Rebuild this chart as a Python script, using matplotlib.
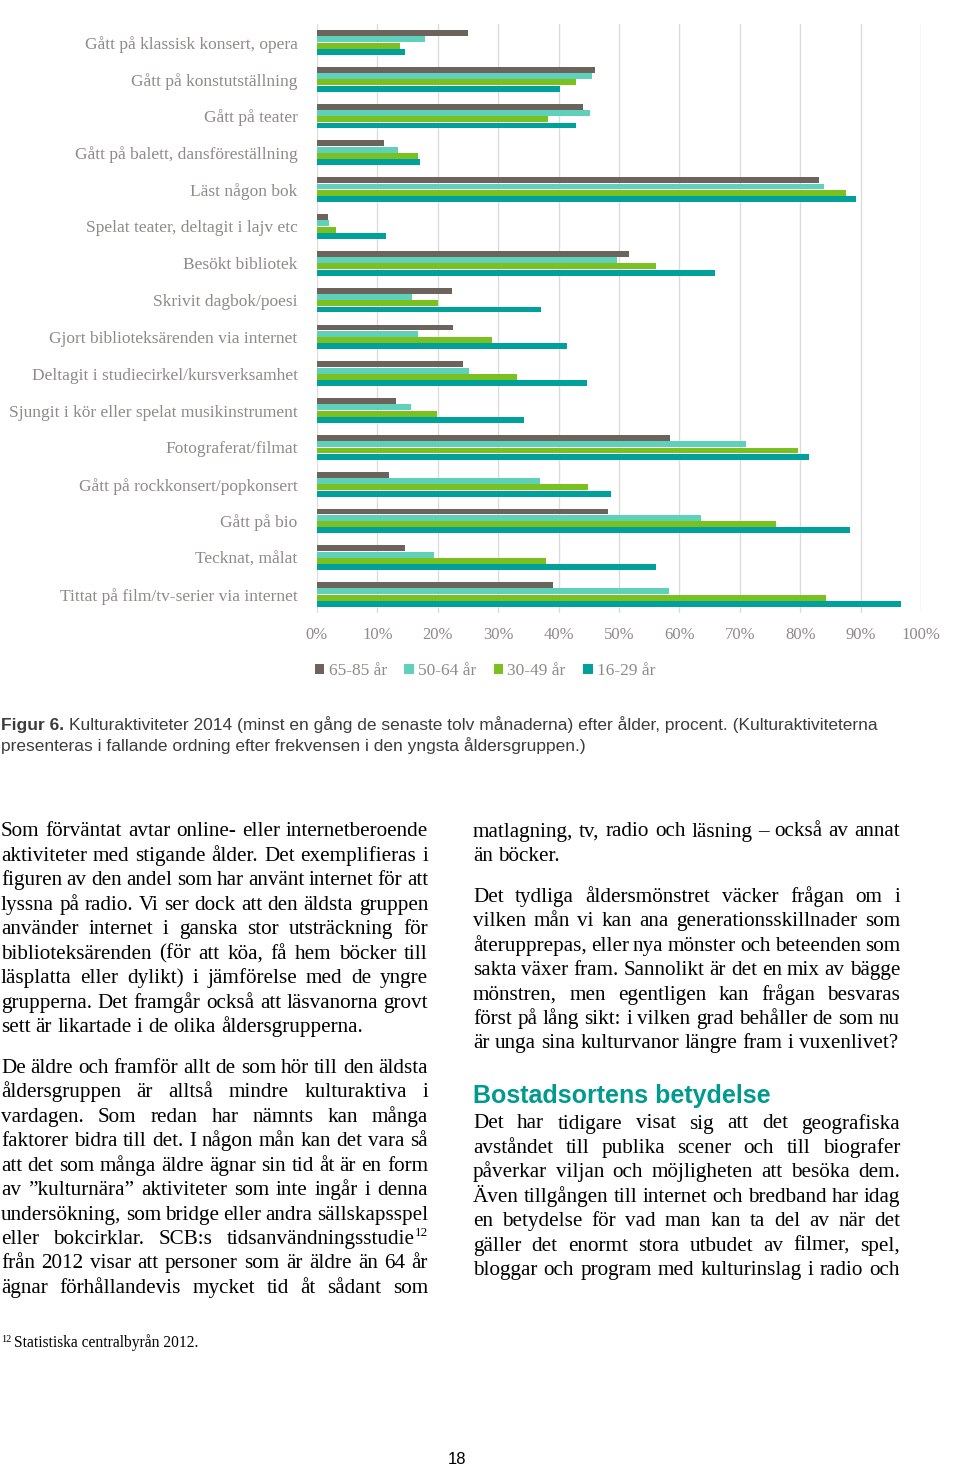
"""Kulturaktiviteter 2014 efter ålder - page recreation."""

import matplotlib

matplotlib.use("Agg")
import matplotlib.pyplot as plt
import numpy as np
from matplotlib.patches import Patch

W, H = 960, 1465

categories = [
    "Gått på klassisk konsert, opera",
    "Gått på konstutställning",
    "Gått på teater",
    "Gått på balett, dansföreställning",
    "Läst någon bok",
    "Spelat teater, deltagit i lajv etc",
    "Besökt bibliotek",
    "Skrivit dagbok/poesi",
    "Gjort biblioteksärenden via internet",
    "Deltagit i studiecirkel/kursverksamhet",
    "Sjungit i kör eller spelat musikinstrument",
    "Fotograferat/filmat",
    "Gått på rockkonsert/popkonsert",
    "Gått på bio",
    "Tecknat, målat",
    "Tittat på film/tv-serier via internet",
]
age_65_85 = [25.0, 46.0, 44.1, 11.1, 83.1, 1.8, 51.7, 22.4, 22.5, 24.1, 13.0, 58.4, 11.9, 48.1, 14.5, 39.0]
age_50_64 = [17.8, 45.6, 45.2, 13.4, 84.0, 2.0, 49.7, 15.7, 16.8, 25.1, 15.5, 71.1, 36.9, 63.5, 19.3, 58.2]
age_30_49 = [13.8, 42.9, 38.2, 16.7, 87.6, 3.1, 56.1, 20.0, 28.9, 33.1, 19.8, 79.6, 44.9, 76.0, 37.9, 84.3]
age_16_29 = [14.5, 40.2, 42.8, 17.0, 89.3, 11.5, 65.9, 37.1, 41.4, 44.7, 34.3, 81.4, 48.6, 88.3, 56.1, 96.7]
series_labels = ["65-85 år", "50-64 år", "30-49 år", "16-29 år"]
series_colors = ["#6c645c", "#5fd0b9", "#7ac11f", "#00a19a"]
x_ticks = [0, 10, 20, 30, 40, 50, 60, 70, 80, 90, 100]

caption_bold = "Figur 6."
caption_lines = [
    "Kulturaktiviteter 2014 (minst en gång de senaste tolv månaderna) efter ålder, procent. (Kulturaktiviteterna",
    "presenteras i fallande ordning efter frekvensen i den yngsta åldersgruppen.)",
]

# (lines, last line justified?)
left_paragraphs = [
    ([
        "Som förväntat avtar online- eller internetberoende",
        "aktiviteter med stigande ålder. Det exemplifieras i",
        "figuren av den andel som har använt internet för att",
        "lyssna på radio. Vi ser dock att den äldsta gruppen",
        "använder internet i ganska stor utsträckning för",
        "biblioteksärenden (för att köa, få hem böcker till",
        "läsplatta eller dylikt) i jämförelse med de yngre",
        "grupperna. Det framgår också att läsvanorna grovt",
        "sett är likartade i de olika åldersgrupperna.",
    ], False),
    ([
        "De äldre och framför allt de som hör till den äldsta",
        "åldersgruppen är alltså mindre kulturaktiva i",
        "vardagen. Som redan har nämnts kan många",
        "faktorer bidra till det. I någon mån kan det vara så",
        "att det som många äldre ägnar sin tid åt är en form",
        "av ”kulturnära” aktiviteter som inte ingår i denna",
        "undersökning, som bridge eller andra sällskapsspel",
        "eller bokcirklar. SCB:s tidsanvändningsstudie^12",
        "från 2012 visar att personer som är äldre än 64 år",
        "ägnar förhållandevis mycket tid åt sådant som",
    ], True),
]
right_top = [
    ([
        "matlagning, tv, radio och läsning – också av annat",
        "än böcker.",
    ], False),
    ([
        "Det tydliga åldersmönstret väcker frågan om i",
        "vilken mån vi kan ana generationsskillnader som",
        "återupprepas, eller nya mönster och beteenden som",
        "sakta växer fram. Sannolikt är det en mix av bägge",
        "mönstren, men egentligen kan frågan besvaras",
        "först på lång sikt: i vilken grad behåller de som nu",
        "är unga sina kulturvanor längre fram i vuxenlivet?",
    ], False),
]
heading = "Bostadsortens betydelse"
right_bottom = [
    ([
        "Det har tidigare visat sig att det geografiska",
        "avståndet till publika scener och till biografer",
        "påverkar viljan och möjligheten att besöka dem.",
        "Även tillgången till internet och bredband har idag",
        "en betydelse för vad man kan ta del av när det",
        "gäller det enormt stora utbudet av filmer, spel,",
        "bloggar och program med kulturinslag i radio och",
    ], True),
]
footnote = "Statistiska centralbyrån 2012."
page_number = "18"

SERIF = ["Liberation Serif", "DejaVu Serif"]
SANS = ["Liberation Sans", "DejaVu Sans"]
LABEL_GREY = "#8f8a87"

fig = plt.figure(figsize=(W / 100, H / 100), dpi=100)
renderer = fig.canvas.get_renderer()


def fx(x):
    return x / W


def fy(y):
    return 1 - y / H


# ---- chart ----
ax = fig.add_axes([fx(317), fy(613), (921 - 317) / W, (613 - 24) / H])
ypos = np.arange(len(categories))
step = 0.171
all_series = [age_65_85, age_50_64, age_30_49, age_16_29]
for i, (vals, lab, col) in enumerate(zip(all_series, series_labels, series_colors)):
    ax.barh(ypos + (i - 1.5) * step, vals, height=step * 0.94, color=col, label=lab, zorder=3)
ax.set_ylim(len(categories) - 0.5, -0.5)
ax.set_xlim(0, 100)
ax.set_yticks(ypos)
ax.set_yticklabels(categories, fontsize=12.5, family=SERIF, color=LABEL_GREY)
ax.set_xticks(x_ticks)
ax.set_xticklabels([f"{t}%" for t in x_ticks], fontsize=12, family=SERIF, color=LABEL_GREY)
ax.tick_params(axis="y", length=0, pad=14)
ax.tick_params(axis="x", length=0, pad=10)
ax.grid(axis="x", color="#dcdcdc", linewidth=1, zorder=0)
for s in ax.spines.values():
    s.set_visible(False)

handles = [Patch(facecolor=c, edgecolor="none") for c in series_colors]
fig.legend(handles, series_labels, loc="center", bbox_to_anchor=(fx(485), fy(671)), ncol=4,
           frameon=False, handlelength=0.55, handleheight=0.55, handletextpad=0.25,
           columnspacing=1.0, prop={"family": SERIF, "size": 12.5}, labelcolor=LABEL_GREY)


def width_of(s, **kw):
    t = fig.text(0, 0, s, **kw)
    w = t.get_window_extent(renderer).width
    t.remove()
    return w


def put_words(line, x0, x1, base, justify, size, color="black"):
    kw = dict(family=SERIF, size=size, color=color)
    sup_kw = dict(family=SERIF, size=size * 0.62, color=color)
    words = line.split(" ")
    parts = []
    for w in words:
        main, _, sup = w.partition("^")
        wm = width_of(main, **kw)
        ws = width_of(sup, **sup_kw) if sup else 0
        parts.append((main, sup, wm, ws))
    total = sum(p[2] + p[3] for p in parts)
    space = width_of("x x", **kw) - width_of("xx", **kw)
    if justify and len(parts) > 1:
        space = (x1 - x0 - total) / (len(parts) - 1)
    x = x0
    for main, sup, wm, ws in parts:
        fig.text(fx(x), fy(base), main, ha="left", va="baseline", **kw)
        if sup:
            fig.text(fx(x + wm), fy(base - size * 0.55), sup, ha="left", va="baseline", **sup_kw)
        x += wm + ws + space


BODY = 15.2
LINE = 24.45
PGAP = 16.3


def put_paragraphs(paras, x0, x1, base):
    for lines, last_just in paras:
        for i, line in enumerate(lines):
            just = i < len(lines) - 1 or last_just
            put_words(line, x0, x1, base, just, BODY)
            base += LINE
        base += PGAP
    return base


# ---- caption ----
cap_kw = dict(family=SANS, size=12.5, color="#3c3c3c")
fig.text(fx(1), fy(730), caption_bold, weight="bold", ha="left", va="baseline", **cap_kw)
bw = width_of(caption_bold + " ", weight="bold", **cap_kw)
fig.text(fx(1 + bw), fy(730), caption_lines[0], ha="left", va="baseline", **cap_kw)
fig.text(fx(1), fy(751), caption_lines[1], ha="left", va="baseline", **cap_kw)

# ---- body text ----
put_paragraphs(left_paragraphs, 1, 428, 836.5)
put_paragraphs(right_top, 473, 900, 836.5)
fig.text(fx(473), fy(1103), heading, family=SANS, weight="bold", size=18, color="#009a8e",
         ha="left", va="baseline")
put_paragraphs(right_bottom, 473, 900, 1128.5)

# ---- footnote and page number ----
fig.text(fx(1), fy(1342), "12", family=SERIF, size=7.5, ha="left", va="baseline")
fig.text(fx(14), fy(1347), footnote, family=SERIF, size=11.2, ha="left", va="baseline")
fig.text(fx(457), fy(1464), page_number, family=SANS, size=12, ha="center", va="baseline")

fig.savefig("out.png", dpi=100)
plt.close(fig)
